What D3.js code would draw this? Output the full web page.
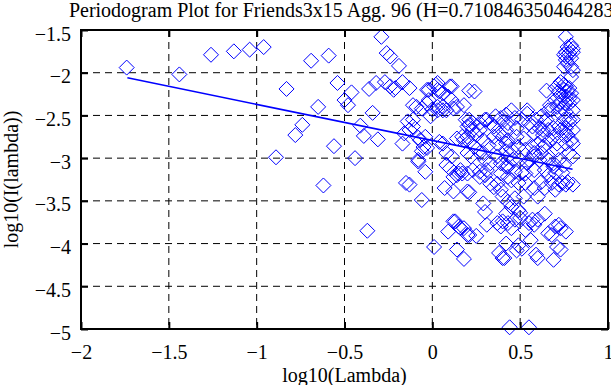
<!DOCTYPE html>
<html>
<head>
<meta charset="utf-8">
<script src="https://cdn.jsdelivr.net/npm/d3@7"></script>
<style>
body { margin: 0; background: #fff; }
svg { display: block; font-family: "Liberation Serif", "Times New Roman", serif; }
</style>
</head>
<body>
<svg id="chart" width="611" height="385"></svg>
<script>
const titleText = "Periodogram Plot for Friends3x15 Agg. 96 (H=0.710846350464283)";
const xTicks = [-2, -1.5, -1, -0.5, 0, 0.5, 1];
const yTicks = [-5, -4.5, -4, -3.5, -3, -2.5, -2, -1.5];

// fitted line (slope = 1 - 2H)
const fitX = [-1.736, 0.798];
const fitY = [-2.06, -3.13];

// log10(lambda), log10(I(lambda))
const logLambda = [
  -1.74,-1.44,-1.26,-1.13,-1.04,-0.96,
  -0.89,-0.83,-0.78,-0.74,-0.69,-0.65,-0.62,-0.59,-0.56,-0.54,
  -0.50,-0.48,-0.46,-0.44,-0.41,-0.39,-0.37,-0.36,-0.34,-0.32,-0.31,-0.29,-0.27,-0.26,-0.24,-0.24,-0.22,-0.21,-0.19,-0.17,-0.17,-0.15,-0.13,-0.13,-0.13,-0.11,-0.09,-0.08,-0.08,-0.08,-0.06,-0.06,-0.05,-0.04,-0.04,-0.03,-0.02,-0.01,0.00,0.01,0.02,0.03,0.03,0.04,0.06,0.06,0.07,0.08,0.08,0.08,0.09,0.11,0.11,0.12,0.12,0.12,0.13,0.14,0.14,0.14,0.15,0.15,0.16,0.17,0.17,0.18,0.18,0.18,0.20,0.20,0.20,0.20,0.21,0.21,0.21,0.21,0.25,
  -0.02,0.01,0.03,0.04,0.10,0.09,0.14,0.24,-0.11,-0.03,0.03,0.06,-0.14,-0.11,-0.16,-0.07,-0.03,-0.06,0.06,0.11,0.10,0.12,
  0.19,0.21,0.23,0.25,0.27,0.30,0.33,0.36,0.39,0.40,0.42,0.18,0.21,0.24,0.29,0.32,0.35,0.38,0.40,0.42,0.22,0.27,0.30,0.33,0.37,0.39,0.42,0.16,0.20,0.23,0.27,0.31,0.39,0.42,
  0.27,0.30,0.33,0.35,0.37,0.39,0.40,0.29,0.30,0.31,0.37,0.39,0.38,0.40,0.42,0.42,0.40,
  0.76,0.79,0.77,0.80,0.76,0.78,0.80,0.75,0.76,0.79,0.76,0.77,0.79,0.75,0.80,0.79,0.73,0.72,0.75,0.76,0.78,0.70,0.72,0.75,0.77,0.79,0.65,0.73,0.76,0.78,0.70,0.73,0.76,0.71,0.74,0.68,0.72,0.76,0.78,0.80,0.67,0.66,0.80,0.78,0.76,0.80,0.77,0.79,0.76,0.80,
  0.45,0.54,0.47,0.51,0.43,0.48,0.55,0.57,0.59,0.62,0.64,0.61,0.58,0.63,0.66,0.69,0.72,0.70,0.67,0.71,0.64,0.60,0.57,0.53,0.49,0.45,0.43,0.52,0.50,0.55,0.58,0.62,0.66,0.69,0.72,0.75,0.64,0.58,0.53,0.47,0.43,
  0.54,0.65,0.63,0.73,0.75,0.76,0.63,0.71,0.58,0.48,0.42,0.35,0.31,0.27,0.23,0.20,0.29,0.37,0.42,0.46,0.54,0.61,0.69,0.78,0.80,0.78,0.80,
  0.59,0.60,0.69,0.71,0.73,0.76,0.66,0.68,0.70,0.72,0.73,0.64,0.49,0.51,0.48,0.56,0.53,0.55,0.57,0.60,0.58,0.45,0.43,0.47,0.50,0.41,0.49,0.50,0.45,0.43,0.47,0.52,0.53,0.49,0.45,0.43,0.51,0.60,0.58,0.64,0.62,0.68,0.70,0.72,0.74,0.76,0.77,0.80,0.70,0.66,0.74,
  0.44,0.55
];
const logPeriod = [
  -1.94,-2.02,-1.79,-1.75,-1.73,-1.70,
  -2.99,-2.19,-2.73,-2.61,-1.86,-2.40,-3.32,-1.80,-2.86,-2.12,
  -2.32,-2.38,-2.23,-3.00,-2.62,-2.74,-3.85,-2.19,-2.47,-2.12,-2.78,-1.58,-2.11,-1.77,-1.81,-2.16,-2.20,-2.18,-1.92,-2.11,-2.83,-3.29,-2.18,-2.67,-3.31,-2.55,-2.40,-3.02,-2.76,-3.04,-2.42,-3.49,-2.87,-2.75,-3.16,-2.20,-2.32,-2.51,-2.43,-4.04,-2.14,-2.40,-2.20,-2.81,-2.24,-2.40,-3.35,-2.44,-2.94,-3.08,-3.86,-2.16,-2.32,-2.42,-3.39,-3.74,-3.74,-2.77,-3.20,-4.07,-3.18,-3.80,-3.82,-3.18,-2.75,-2.38,-3.82,-4.18,-2.63,-2.94,-3.39,-3.90,-3.40,-2.21,-2.55,-3.90,-3.91,
  -2.20,-2.16,-2.12,-2.22,-2.16,-2.28,-2.40,-2.22,-2.38,-2.36,-2.44,-2.44,-2.57,-2.63,-2.71,-2.79,-2.88,-2.92,-2.83,-2.98,-3.12,-3.22,
  -2.55,-2.61,-2.67,-2.73,-2.59,-2.55,-2.59,-2.51,-2.53,-2.57,-2.49,-2.79,-2.81,-2.87,-2.79,-2.85,-2.75,-2.71,-2.75,-2.83,-2.98,-2.94,-3.02,-3.06,-2.98,-3.06,-3.00,-3.14,-3.18,-3.14,-3.22,-3.14,-3.18,-3.10,
  -3.16,-3.20,-3.30,-3.34,-3.30,-3.37,-3.45,-3.53,-3.63,-3.78,-3.76,-3.80,-4.11,-4.17,-4.00,-3.65,-3.74,
  -1.58,-1.68,-1.70,-1.72,-1.76,-1.77,-1.76,-1.79,-1.81,-1.83,-1.85,-1.89,-1.93,-1.93,-1.97,-2.05,-2.11,-2.14,-2.14,-2.16,-2.18,-2.18,-2.22,-2.20,-2.22,-2.24,-2.21,-2.26,-2.28,-2.30,-2.32,-2.34,-2.36,-2.40,-2.42,-2.43,-2.46,-2.46,-2.36,-2.32,-2.38,-2.44,-2.55,-2.59,-2.65,-2.67,-2.73,-2.79,-2.83,-2.98,
  -2.44,-2.44,-2.53,-2.55,-2.59,-2.65,-2.59,-2.63,-2.55,-2.51,-2.57,-2.65,-2.71,-2.73,-2.67,-2.65,-2.63,-2.73,-2.79,-2.83,-2.85,-2.83,-2.87,-2.90,-2.87,-2.90,-2.79,-2.77,-3.02,-3.02,-2.98,-2.94,-3.02,-3.10,-3.02,-3.08,-3.14,-3.14,-3.18,-3.16,-3.10,
  -2.48,-2.55,-2.67,-2.67,-2.55,-2.71,-2.87,-2.90,-2.94,-2.75,-2.67,-2.63,-2.55,-2.67,-2.59,-2.75,-2.94,-2.83,-2.92,-3.02,-3.06,-3.02,-3.06,-2.94,-2.83,-2.55,-2.44,
  -4.13,-4.17,-4.19,-4.04,-4.07,-3.86,-3.88,-3.90,-3.80,-3.78,-3.82,-3.65,-4.02,-4.06,-4.08,-3.96,-3.84,-3.76,-3.72,-3.72,-3.78,-3.82,-3.76,-3.72,-3.70,-4.17,-3.61,-3.64,-3.57,-3.51,-3.47,-3.45,-3.29,-3.29,-3.26,-3.22,-3.17,-3.45,-3.35,-3.35,-3.28,-3.29,-3.37,-3.31,-3.29,-3.31,-3.28,-3.31,-3.17,-3.20,-3.17,
  -4.98,-4.98
];

const nPts = Math.min(logLambda.length, logPeriod.length);
const points = logLambda.slice(0, nPts).map((v, i) => ({ x: v, y: logPeriod[i] }));

const svg = d3.select("#chart");
const plotL = 81, plotR = 608, plotT = 30, plotB = 329;

const x = d3.scaleLinear().domain([-2, 1]).range([plotL, plotR]);
const y = d3.scaleLinear().domain([-5, -1.5]).range([plotB, plotT]);

// dashed grid
svg.append("g")
    .selectAll("line")
    .data(xTicks.filter(d => d > -2 && d < 1))
    .join("line")
    .attr("x1", d => x(d)).attr("x2", d => x(d))
    .attr("y1", plotT).attr("y2", plotB)
    .attr("stroke", "#000").attr("stroke-width", 1)
    .attr("stroke-dasharray", "7,5");

svg.append("g")
    .selectAll("line")
    .data(yTicks.filter(d => d > -5 && d < -1.5))
    .join("line")
    .attr("x1", plotL).attr("x2", plotR)
    .attr("y1", d => y(d)).attr("y2", d => y(d))
    .attr("stroke", "#000").attr("stroke-width", 1)
    .attr("stroke-dasharray", "7,5");

// diamonds
const r = 7.5;
svg.append("g")
    .selectAll("path")
    .data(points)
    .join("path")
    .attr("d", d => {
        const cx = x(d.x), cy = y(d.y);
        return `M${cx},${cy - r}L${cx + r},${cy}L${cx},${cy + r}L${cx - r},${cy}Z`;
    })
    .attr("fill", "none")
    .attr("stroke", "#0000ff")
    .attr("stroke-width", 1);

// fit line
svg.append("path")
    .datum(fitX.map((v, i) => [v, fitY[i]]))
    .attr("d", d3.line().x(d => x(d[0])).y(d => y(d[1])))
    .attr("fill", "none")
    .attr("stroke", "#0000ff")
    .attr("stroke-width", 1.6);

// axes, ticks inside like gnuplot
function styleAxis(g) {
    g.select(".domain").remove();
    g.selectAll(".tick line").attr("stroke", "#000").attr("stroke-width", 2);
    g.selectAll(".tick text").attr("fill", "#000").style("font-size", "20px")
        .style("font-family", "'Liberation Serif', serif");
}
const fmt = d => String(d).replace("-", "\u2212");

svg.append("g")
    .attr("transform", `translate(0,${plotB})`)
    .call(d3.axisBottom(x).tickValues(xTicks).tickSize(-7).tickPadding(16).tickFormat(fmt))
    .call(styleAxis);
svg.append("g")
    .attr("transform", `translate(0,${plotT})`)
    .call(d3.axisTop(x).tickValues(xTicks).tickSize(-7).tickFormat(""))
    .call(styleAxis);
svg.append("g")
    .attr("transform", `translate(${plotL},0)`)
    .call(d3.axisLeft(y).tickValues(yTicks).tickSize(-7).tickPadding(10).tickFormat(fmt))
    .call(styleAxis)
    .call(g => g.selectAll(".tick text").attr("dy", "0.5em"));
svg.append("g")
    .attr("transform", `translate(${plotR},0)`)
    .call(d3.axisRight(y).tickValues(yTicks).tickSize(-7).tickFormat(""))
    .call(styleAxis);

// frame
svg.append("rect")
    .attr("x", plotL).attr("y", plotT)
    .attr("width", plotR - plotL).attr("height", plotB - plotT)
    .attr("fill", "none").attr("stroke", "#000").attr("stroke-width", 2);

// labels
svg.append("text")
    .attr("x", (plotL + plotR) / 2).attr("y", 17)
    .attr("text-anchor", "middle")
    .style("font-size", "20px")
    .text(titleText);

svg.append("text")
    .attr("x", (plotL + plotR) / 2).attr("y", 382)
    .attr("text-anchor", "middle")
    .style("font-size", "20px")
    .text("log10(Lambda)");

svg.append("text")
    .attr("transform", `translate(18,${(plotT + plotB) / 2}) rotate(-90)`)
    .attr("text-anchor", "middle")
    .style("font-size", "20px")
    .text("log10(I(lambda))");
</script>
</body>
</html>
